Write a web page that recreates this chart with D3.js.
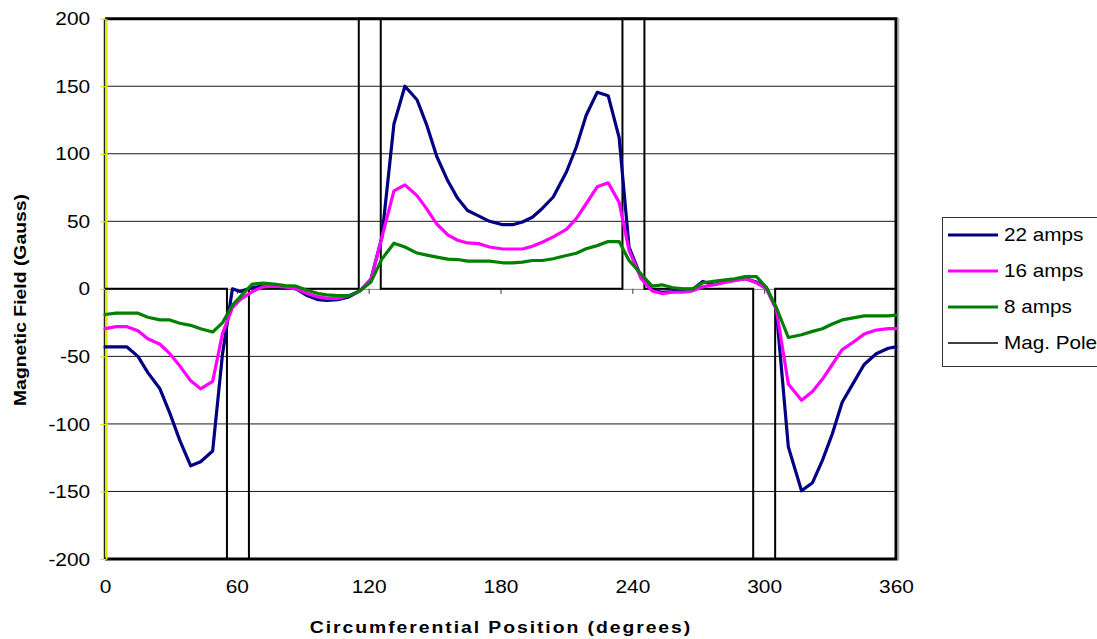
<!DOCTYPE html>
<html>
<head>
<meta charset="utf-8">
<script src="https://cdn.jsdelivr.net/npm/d3@7"></script>
<style>
  html, body { margin: 0; padding: 0; background: #ffffff; }
  svg { display: block; }
  text { font-family: "Liberation Sans", Arial, sans-serif; fill: #000; }
</style>
</head>
<body>
<svg id="chart" width="1097" height="639"></svg>
<script>
// ---- data ----
const angles = [0, 5, 10, 15, 19.5, 25, 29.5, 34, 39, 43.5, 49, 53.5, 58, 61.5, 67, 72, 77, 82, 87, 92, 97, 101, 106, 111, 116, 121, 126, 131.5, 136.5, 142, 146.5, 151, 156, 160.5, 165, 170, 175, 181, 185.5, 190, 194.5, 199, 204, 210, 214.5, 219, 224, 229, 234, 238.5, 244, 249, 253.5, 258, 263, 267.5, 272, 277, 281.5, 286.5, 291.5, 296.5, 301, 305.5, 311, 317, 322, 326.5, 331, 335.5, 340.5, 345.5, 351, 356.5, 360];
const amps22 = [-43, -43, -43, -50, -62, -74, -92, -112, -131, -128, -120, -48, 0, -2, 1, 2, 2, 1, 0, -5, -8, -8.5, -8, -6, -1.5, 7, 38, 122, 150, 140, 121, 98, 80, 67, 58, 54, 50, 47.5, 47.5, 49.5, 53, 59.5, 68, 86.5, 105, 128.5, 145.5, 143, 112, 31, 8.5, -1, -2.5, -2, -1, -0.5, 5.5, 3, 5, 6.5, 7.5, 5, 1, -15, -117, -149.5, -143.5, -127, -107.5, -84, -70, -56, -48, -44, -43];
const amps16 = [-29.5, -28, -28, -31, -37, -41, -48, -57, -68, -74, -68.5, -33, -14, -8, -2, 1.5, 2, 1.5, 0, -3.5, -6, -7, -7, -5, -1.5, 6.5, 38, 72.5, 77, 69, 59, 48, 40, 36, 34, 33.5, 31, 29.5, 29.5, 29.5, 31.5, 34.5, 38.5, 44, 52, 63, 75.5, 78.5, 64, 28.5, 7.5, -1.5, -3.5, -2.5, -2.5, -1.5, 1.5, 3, 4.5, 6, 7.5, 4.5, 0, -15, -70.5, -82.5, -76, -67, -56, -45, -39.5, -33.5, -30.5, -29.5, -29.5];
const amps8 = [-19, -18, -18, -18, -21, -23, -23, -25.5, -27, -29.5, -32, -25, -12, -6, 3.5, 4.2, 3.5, 2.5, 2, -1, -3.5, -4.5, -5, -5, -1.5, 5, 22, 33.8, 31, 26.5, 25, 23.5, 22, 21.7, 20.5, 20.5, 20.5, 19.3, 19.3, 19.8, 21, 21, 22.3, 24.7, 26.4, 29.7, 32, 35, 35, 21, 11, 2, 3, 1, 0, 0, 4.5, 5.5, 6.5, 7.5, 9, 9, 1, -13.6, -36, -34, -31.5, -29.5, -26, -23, -21.5, -20, -20, -20, -19.5];
const poleAngles = [0, 55.5, 55.5, 65.5, 65.5, 115.5, 115.5, 125.5, 125.5, 235.5, 235.5, 245.5, 245.5, 295, 295, 305, 305, 360];
const poleField = [0, 0, -200, -200, 0, 0, 200, 200, 0, 0, 200, 200, 0, 0, -200, -200, 0, 0];
const seriesNames = ["22 amps", "16 amps", "8 amps", "Mag. Pole"];
const seriesColors = ["#000080", "#FF00FF", "#008000", "#000000"];
const xTicks = [0, 60, 120, 180, 240, 300, 360];
const yTicks = [200, 150, 100, 50, 0, -50, -100, -150, -200];
const xTitle = "Circumferential Position (degrees)";
const yTitle = "Magnetic Field (Gauss)";

// ---- layout ----
const svg = d3.select("#chart");
const L = 105, R = 896, T = 18.7, B = 559;
const x = d3.scaleLinear().domain([0, 360]).range([L, R]);
const y = d3.scaleLinear().domain([-200, 200]).range([B, T]);
const fmt = d => String(d);

// gridlines
svg.append("g").selectAll("line")
  .data(yTicks.filter(v => v !== 0 && Math.abs(v) !== 200))
  .join("line")
  .attr("x1", L).attr("x2", R)
  .attr("y1", d => y(d)).attr("y2", d => y(d))
  .attr("stroke", "#1a1a1a").attr("stroke-width", 1);

// zero axis line with small ticks
const zeroAxis = svg.append("g").attr("transform", `translate(0,${y(0)})`)
  .call(d3.axisBottom(x).tickValues(xTicks.slice(1, -1)).tickSize(5).tickSizeOuter(0).tickFormat(""));
zeroAxis.select(".domain").attr("stroke", "#808080").attr("stroke-width", 1);
zeroAxis.selectAll(".tick line").attr("stroke", "#333");

// plot border
svg.append("path")
  .attr("d", `M${L},${T}H${R}V${B}H${L}`)
  .attr("fill", "none").attr("stroke", "#000").attr("stroke-width", 3);
svg.append("line").attr("x1", R + 2.5).attr("x2", R + 2.5).attr("y1", T - 1).attr("y2", B + 1.5)
  .attr("stroke", "#b0b0b0").attr("stroke-width", 1.5);
svg.append("line").attr("x1", L - 0.5).attr("x2", L - 0.5).attr("y1", T).attr("y2", B)
  .attr("stroke", "#222").attr("stroke-width", 1.5);

// y axis (yellow)
const yAxis = svg.append("g").attr("transform", `translate(${L + 1.3},0)`)
  .call(d3.axisLeft(y).tickValues(yTicks).tickFormat(fmt).tickSize(6).tickPadding(9).tickSizeOuter(0));
yAxis.select(".domain").attr("stroke", "#e6e600").attr("stroke-width", 1.6);
yAxis.selectAll(".tick line").attr("stroke", "#e6e600").attr("stroke-width", 1.2);
yAxis.selectAll(".tick text")
  .attr("font-size", 19).attr("fill", "#000")
  .attr("font-family", "'Liberation Sans', Arial, sans-serif")
  .attr("x", -15 / 1.1 - 1)
  .attr("transform", "scale(1.1,1)");

// x axis labels
const xAxis = svg.append("g").attr("transform", `translate(0,${B})`)
  .call(d3.axisBottom(x).tickValues(xTicks).tickFormat(fmt).tickSize(0).tickPadding(21));
xAxis.select(".domain").remove();
xAxis.selectAll(".tick text")
  .attr("font-size", 19).attr("fill", "#000")
  .attr("font-family", "'Liberation Sans', Arial, sans-serif")
  .attr("transform", "scale(1.1,1)");

// series
const line = d3.line().x(d => x(d[0])).y(d => y(d[1]));
const poleData = poleAngles.map((a, i) => [a, poleField[i]]);
svg.append("path").datum(poleData)
  .attr("d", line).attr("fill", "none")
  .attr("stroke", "#000").attr("stroke-width", 2);

const series = [amps22, amps16, amps8];
series.forEach((vals, k) => {
  svg.append("path").datum(angles.map((a, i) => [a, vals[i]]))
    .attr("d", line).attr("fill", "none")
    .attr("stroke", seriesColors[k]).attr("stroke-width", 3.2)
    .attr("stroke-linejoin", "round").attr("stroke-linecap", "round");
});

// axis titles
svg.append("g").attr("transform", `translate(501,627)`)
  .append("text").attr("text-anchor", "middle").attr("dominant-baseline", "central")
  .attr("font-size", 17).attr("font-weight", "bold").attr("letter-spacing", 1.7)
  .attr("transform", "scale(1.14,1)")
  .text(xTitle);
svg.append("g").attr("transform", `translate(20.5,300) rotate(-90)`)
  .append("text").attr("text-anchor", "middle").attr("dominant-baseline", "central")
  .attr("font-size", 17).attr("font-weight", "bold")
  .attr("transform", "scale(1.14,1)")
  .text(yTitle);

// legend
const lg = svg.append("g");
lg.append("rect").attr("x", 942.5).attr("y", 217.5).attr("width", 170).attr("height", 149)
  .attr("fill", "#fff").attr("stroke", "#333").attr("stroke-width", 1);
const rowY = d3.scalePoint().domain(seriesNames).range([235, 343]);
seriesNames.forEach((name, k) => {
  const yy = rowY(name);
  lg.append("line").attr("x1", 948).attr("x2", 998).attr("y1", yy).attr("y2", yy)
    .attr("stroke", seriesColors[k]).attr("stroke-width", k === 3 ? 1.5 : 3.2);
  lg.append("g").attr("transform", `translate(1004,${yy})`)
    .append("text").attr("dominant-baseline", "central")
    .attr("font-size", 18).attr("transform", "scale(1.15,1)")
    .text(name);
});
</script>
</body>
</html>
